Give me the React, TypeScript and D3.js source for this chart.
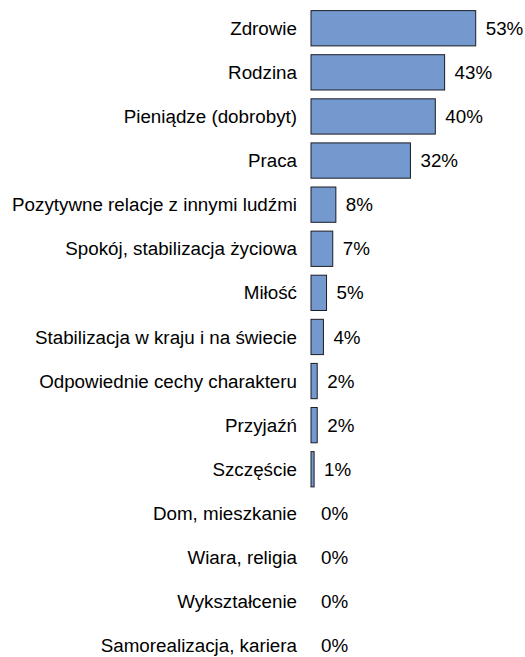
import React, { useEffect, useRef } from 'react';
import * as d3 from 'd3';

const categories = [
  'Zdrowie',
  'Rodzina',
  'Pieniądze (dobrobyt)',
  'Praca',
  'Pozytywne relacje z innymi ludźmi',
  'Spokój, stabilizacja życiowa',
  'Miłość',
  'Stabilizacja w kraju i na świecie',
  'Odpowiednie cechy charakteru',
  'Przyjaźń',
  'Szczęście',
  'Dom, mieszkanie',
  'Wiara, religia',
  'Wykształcenie',
  'Samorealizacja, kariera',
];
const values = [53, 43, 40, 32, 8, 7, 5, 4, 2, 2, 1, 0, 0, 0, 0];

const width = 525, height = 657;

export default function App() {
  const ref = useRef(null);

  useEffect(() => {
    const svg = d3.select(ref.current);
    svg.selectAll('*').remove();

    const x0 = 311;
    const x = d3.scaleLinear().domain([0, 53]).range([x0, 475.7]);
    const y = d3.scaleBand()
      .domain(categories)
      .range([5.7, 5.7 + 44.1 * categories.length])
      .paddingInner(0.2)
      .paddingOuter(0.1);

    const g = svg.append('g')
      .style('font-family', 'Arial, "Liberation Sans", sans-serif')
      .style('font-size', '18.8px')
      .style('fill', '#000');

    const rows = g.selectAll('g.row')
      .data(categories.map((c, i) => ({ c, v: values[i] })))
      .join('g')
      .attr('class', 'row');

    rows.filter(d => d.v > 0)
      .append('rect')
      .attr('x', x0)
      .attr('y', d => y(d.c) + 0.5)
      .attr('width', d => x(d.v) - x0)
      .attr('height', y.bandwidth())
      .attr('fill', '#7399ce')
      .attr('stroke', '#1c1c24')
      .attr('stroke-width', 1);

    const cy = d => y(d.c) + y.bandwidth() / 2 + 0.5;

    rows.append('text')
      .attr('x', 297)
      .attr('y', cy)
      .attr('dy', '0.35em')
      .attr('text-anchor', 'end')
      .text(d => d.c);

    rows.append('text')
      .attr('x', d => x(d.v) + 10)
      .attr('y', cy)
      .attr('dy', '0.35em')
      .text(d => `${d.v}%`);
  }, []);

  return (
    <svg ref={ref} width={width} height={height}
      style={{ position: 'absolute', left: 0, top: 0, background: '#fff' }} />
  );
}
